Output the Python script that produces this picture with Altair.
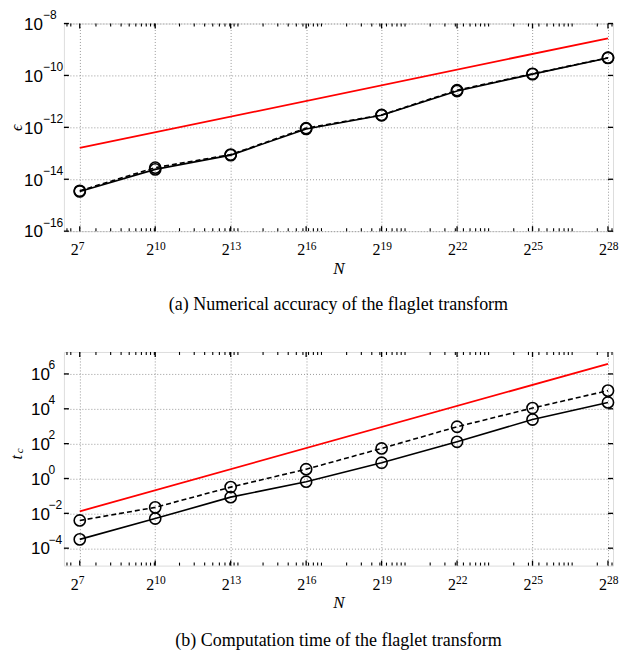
import math
import altair as alt
import pandas as pd

# ---------------- data ----------------
exps = [7, 10, 13, 16, 19, 22, 25, 28]
x_tick_base = "2"
x_tick_sup = ["7", "10", "13", "16", "19", "22", "25", "28"]

eps_solid = [3.4e-15, 2.4e-14, 8.5e-14, 8.7e-13, 2.9e-12, 2.5e-11, 1.12e-10, 4.7e-10]
eps_dashed = [3.6e-15, 2.8e-14, 8.9e-14, 9.3e-13, 3.0e-12, 2.7e-11, 1.15e-10, 4.8e-10]
eps_ref_x = [7, 28]
eps_ref = [1.6e-13, 2.7e-9]
eps_ticks = [-16, -14, -12, -10, -8]
eps_tick_sup = ["−16", "−14", "−12", "−10", "−8"]

t_solid = [3.2e-4, 5.0e-3, 8.5e-2, 0.65, 8.0, 128, 2400, 2.3e4]
t_dashed = [3.9e-3, 2.2e-2, 0.32, 3.4, 53, 930, 1.1e4, 1.1e5]
t_ref_x = [7, 28]
t_ref = [1.3e-2, 3.8e6]
t_ticks = [-4, -2, 0, 2, 4, 6]
t_tick_sup = ["−4", "−2", "0", "2", "4", "6"]
y_tick_base = "10"

caption_a = "(a) Numerical accuracy of the flaglet transform"
caption_b = "(b) Computation time of the flaglet transform"
x_title = "N"
eps_title = "ϵ"
t_title = "t"
t_title_sub = "c"

# ---------------- layout / style ----------------
W = 550
H_TOP, H_BOT = 208, 214
XDOM = [6.37, 28.2]
SERIF = "Liberation Serif"
SANS = "Liberation Sans"

# minor ticks of the log axis in N (k * 10^m)
minor_vals = []
for m in range(1, 9):
    for k in range(1, 10):
        v = math.log2(k * 10 ** m)
        if XDOM[0] < v < XDOM[1]:
            minor_vals.append(v)


def panel(H, solid, dashed, ref_x, ref, ydom, ticks, tick_sup, ytitle, title_x, caption, cap_offset,
          base_x, sup_x, sub=None):
    yvals = [10.0 ** t for t in ticks]
    x_enc = alt.X(
        "x:Q",
        scale=alt.Scale(domain=XDOM, nice=False, zero=False),
        axis=alt.Axis(
            values=exps, labels=False, grid=True, ticks=False, domain=False,
            gridColor="#9a9a9a", gridDash=[1, 2], gridWidth=1,
            title=x_title, titleFont=SERIF, titleFontStyle="italic", titleFontWeight="normal",
            titleFontSize=17, titleColor="black", titleY=37, titleBaseline="middle",
        ),
    )
    y_enc = alt.Y(
        "y:Q",
        scale=alt.Scale(type="log", domain=ydom, nice=False),
        axis=alt.Axis(
            values=yvals, labels=False, grid=True, ticks=False, domain=False,
            gridColor="#9a9a9a", gridDash=[1, 2], gridWidth=1,
            title=ytitle, titleFont=SERIF, titleFontStyle="italic", titleFontWeight="normal",
            titleFontSize=16, titleColor="black", titleX=title_x, titleY=H / 2 - (2 if sub else 0),
            titleAngle=270, titleAlign="center", titleBaseline="middle",
        ),
    )
    df_s = pd.DataFrame({"x": exps, "y": solid})
    df_d = pd.DataFrame({"x": exps, "y": dashed})
    df_r = pd.DataFrame({"x": ref_x, "y": ref})
    df_xmaj = pd.DataFrame({"x": exps, "sup": x_tick_sup, "base": x_tick_base})
    df_xmin = pd.DataFrame({"x": minor_vals})
    df_y = pd.DataFrame({"y": yvals, "sup": tick_sup, "base": y_tick_base})

    red = alt.Chart(df_r).mark_line(color="#ff0000", strokeWidth=1.8).encode(x=x_enc, y=y_enc)
    dashed_line = alt.Chart(df_d).mark_line(color="black", strokeWidth=1.6, strokeDash=[5, 3]).encode(x=x_enc, y=y_enc)
    dashed_pts = alt.Chart(df_d).mark_point(shape="circle", filled=False, color="black", size=125, strokeWidth=1.6, opacity=1).encode(x=x_enc, y=y_enc)
    solid_line = alt.Chart(df_s).mark_line(color="black", strokeWidth=1.6).encode(x=x_enc, y=y_enc)
    solid_pts = alt.Chart(df_s).mark_point(shape="circle", filled=False, color="black", size=125, strokeWidth=1.6, opacity=1).encode(x=x_enc, y=y_enc)

    xt_bot = alt.Chart(df_xmaj).mark_rule(color="black", strokeWidth=1.3).encode(x=x_enc, y=alt.value(H), y2=alt.value(H - 5))
    xt_top = alt.Chart(df_xmaj).mark_rule(color="black", strokeWidth=1.3).encode(x=x_enc, y=alt.value(0), y2=alt.value(5))
    xm_bot = alt.Chart(df_xmin).mark_rule(color="black", strokeWidth=1.1).encode(x=x_enc, y=alt.value(H), y2=alt.value(H - 3))
    xm_top = alt.Chart(df_xmin).mark_rule(color="black", strokeWidth=1.1).encode(x=x_enc, y=alt.value(0), y2=alt.value(3))
    yt_l = alt.Chart(df_y).mark_rule(color="black", strokeWidth=1.3).encode(y=y_enc, x=alt.value(0), x2=alt.value(5))
    yt_r = alt.Chart(df_y).mark_rule(color="black", strokeWidth=1.3).encode(y=y_enc, x=alt.value(W - 5), x2=alt.value(W))

    # x tick labels: 2^k
    xl_base = alt.Chart(df_xmaj).mark_text(font=SERIF, fontSize=16, align="right", baseline="alphabetic", dx=-1, color="black").encode(
        x=x_enc, y=alt.value(H + 24), text="base:N")
    xl_sup = alt.Chart(df_xmaj).mark_text(font=SERIF, fontSize=11.5, align="left", baseline="alphabetic", dx=-1, color="black").encode(
        x=x_enc, y=alt.value(H + 18.5), text="sup:N")
    # y tick labels: 10^k
    yl_base = alt.Chart(df_y).mark_text(font=SANS, fontSize=17, align="left", baseline="alphabetic", dy=6.3, color="black").encode(
        y=y_enc, x=alt.value(base_x), text="base:N")
    yl_sup = alt.Chart(df_y).mark_text(font=SANS, fontSize=12, align="left", baseline="alphabetic", dy=-4.5, color="black").encode(
        y=y_enc, x=alt.value(sup_x), text="sup:N")

    layers = [red, dashed_line, solid_line, dashed_pts, solid_pts, xt_bot, xt_top, xm_bot, xm_top,
              yt_l, yt_r, xl_base, xl_sup, yl_base, yl_sup]
    if sub is not None:
        sub_txt = alt.Chart(pd.DataFrame({"t": [sub]})).mark_text(
            font=SERIF, fontStyle="italic", fontSize=11, angle=270, color="black"
        ).encode(text="t:N", x=alt.value(title_x + 3.5), y=alt.value(H / 2 - 8))
        layers.append(sub_txt)

    return alt.layer(*layers).properties(
        width=W, height=H,
        title=alt.TitleParams(
            caption, orient="bottom", anchor="middle", font=SERIF, fontSize=18,
            fontWeight="normal", color="black", offset=cap_offset,
        ),
    )


top = panel(H_TOP, eps_solid, eps_dashed, eps_ref_x, eps_ref, [1e-16, 1e-8], eps_ticks, eps_tick_sup,
            eps_title, -47, caption_a, 20, base_x=-40, sup_x=-21)
bottom = panel(H_BOT, t_solid, t_dashed, t_ref_x, t_ref, [1e-5, 10 ** 7.26], t_ticks, t_tick_sup,
               t_title, -47, caption_b, 22, base_x=-33, sup_x=-15.5, sub=t_title_sub)

chart = alt.vconcat(top, bottom, spacing=35).properties(padding=0).configure_view(
    stroke="black", strokeWidth=2
).configure(background="white")

chart.save("out.html", embed_options={"renderer": "svg", "actions": False})
